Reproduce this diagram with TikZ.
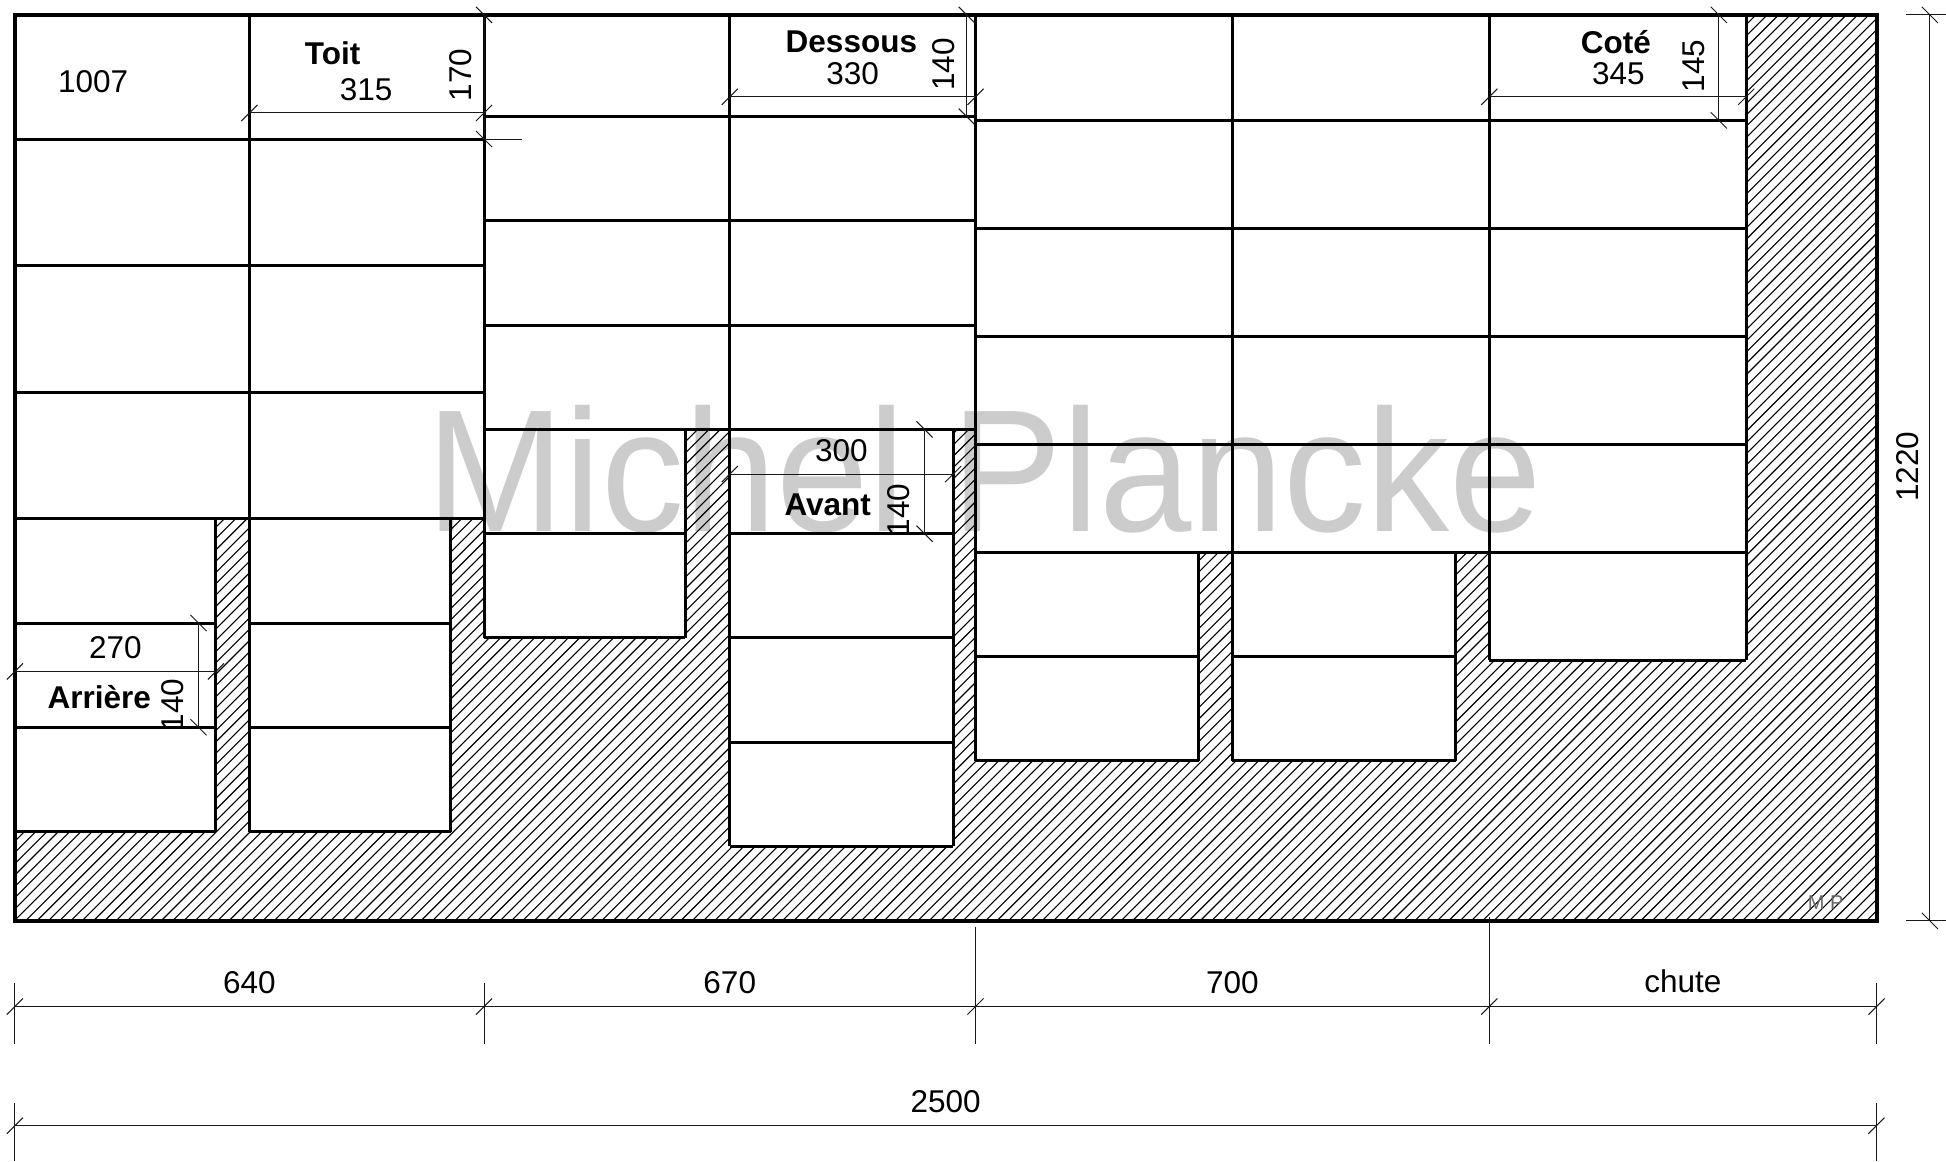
\documentclass[tikz,border=0pt]{standalone}
\usepackage{fontspec}
\setmainfont{Liberation Sans}
\definecolor{markgray}{RGB}{204,204,204}
\tikzset{
  sheetline/.style={line width=3pt,black},
  sheetedge/.style={line width=4pt,black,line join=miter},
  hatchline/.style={line width=1.1pt,black},
  dimline/.style={line width=1pt,black!90},
  dimlabel/.style={inner sep=0pt,font=\fontsize{31.5}{32}\selectfont},
  partlabel/.style={inner sep=0pt,font=\fontsize{31.5}{32}\selectfont\bfseries}
}
\begin{document}
\begin{tikzpicture}[x=1.2411pt,y=-1.2411pt]
    \useasboundingbox (0,0) rectangle (1568,935.5);
    % watermark
    \node[inner sep=0pt,text=markgray,font=\fontsize{166}{166}\selectfont,yscale=1.05,transform shape] (mark) at (793,378) {Michel Plancke};
    % offcuts
    \begin{scope}
        \clip (1407,12) -- (1512,12) -- (1512,742) -- (12,742) -- (12,670) -- (174,670) -- (174,418) -- (201,418)
            -- (201,670) -- (363,670) -- (363,418) -- (390,418) -- (390,514) -- (552,514) -- (552,346) -- (588,346)
            -- (588,682) -- (768,682) -- (768,346) -- (786,346) -- (786,613) -- (966,613) -- (966,445) -- (993,445)
            -- (993,613) -- (1173,613) -- (1173,445) -- (1200,445) -- (1200,532) -- (1407,532) -- cycle;
        \foreach \i in {0,...,255}
            \draw[hatchline] ({-780+\i*9.1},760) -- ++(780,-780);
    \end{scope}
    % columns
    \draw[sheetline] (201,12) -- (201,670);
    \draw[sheetline] (390,12) -- (390,514);
    \draw[sheetline] (588,12) -- (588,682);
    \draw[sheetline] (786,12) -- (786,613);
    \draw[sheetline] (993,12) -- (993,613);
    \draw[sheetline] (1200,12) -- (1200,532);
    \draw[sheetline] (1407,12) -- (1407,532);
    \draw[sheetline] (174,418) -- (174,670);
    \draw[sheetline] (363,418) -- (363,670);
    \draw[sheetline] (552,346) -- (552,514);
    \draw[sheetline] (768,346) -- (768,682);
    \draw[sheetline] (966,445) -- (966,613);
    \draw[sheetline] (1173,445) -- (1173,613);
    % rows
    \foreach \y in {112,214,316,418}
        \draw[sheetline] (12,\y) -- (390,\y);
    \foreach \y in {94,178,262,346}
        \draw[sheetline] (390,\y) -- (786,\y);
    \foreach \y in {97,184,271,358,445}
        \draw[sheetline] (786,\y) -- (1407,\y);
    \foreach \y in {502,586,670} {
        \draw[sheetline] (12,\y) -- (174,\y);
        \draw[sheetline] (201,\y) -- (363,\y);
    }
    \foreach \y in {430,514} \draw[sheetline] (390,\y) -- (552,\y);
    \foreach \y in {430,514,598,682} \draw[sheetline] (588,\y) -- (768,\y);
    \foreach \y in {529,613} {
        \draw[sheetline] (786,\y) -- (966,\y);
        \draw[sheetline] (993,\y) -- (1173,\y);
    }
    \draw[sheetline] (1200,532) -- (1407,532);
    \draw[sheetedge] (12,12) rectangle (1512,742);
    % dimension lines
    \draw[dimline] (201,91) -- (390,91);
    \draw[dimline] (390,12) -- (390,112) -- (421,112);
    \draw[dimline] (588,78) -- (786,78);
    \draw[dimline] (779,12) -- (779,94);
    \draw[dimline] (1200,78) -- (1407,78);
    \draw[dimline] (1385,12) -- (1385,97);
    \draw[dimline] (12,541) -- (174,541);
    \draw[dimline] (160,502) -- (160,586);
    \draw[dimline] (588,382) -- (768,382);
    \draw[dimline] (745,346) -- (745,430);
    \draw[dimline] (1536,12) -- (1568,12);
    \draw[dimline] (1536,742) -- (1568,742);
    \draw[dimline] (1555,12) -- (1555,742);
    \draw[dimline] (12,811) -- (1512,811);
    \draw[dimline] (12,907) -- (1512,907);
    \draw[dimline] (12,792) -- (12,841);
    \draw[dimline] (390,792) -- (390,841);
    \draw[dimline] (786,747) -- (786,841);
    \draw[dimline] (1200,739) -- (1200,841);
    \draw[dimline] (1512,792) -- (1512,841);
    \draw[dimline] (12,889) -- (12,935.5);
    \draw[dimline] (1512,889) -- (1512,935.5);
    % ticks
    \foreach \x/\y in {201/91,390/91,588/78,786/78,1200/78,1407/78,12/541,174/541,588/382,768/382,
                       12/811,390/811,786/811,1200/811,1512/811,12/907,1512/907}
        \draw[dimline] (\x-6.5,\y+6.5) -- (\x+6.5,\y-6.5);
    \foreach \x/\y in {390/12,390/112,779/12,779/94,1385/12,1385/97,160/502,160/586,745/346,745/430,1555/12,1555/742}
        \draw[dimline] (\x-6.5,\y-6.5) -- (\x+6.5,\y+6.5);
    % labels
    \node[dimlabel] (len1007) at (75,66) {1007};
    \node[partlabel] (toit) at (268,43) {Toit};
    \node[dimlabel] (wid315) at (295,72) {315};
    \node[dimlabel,rotate=90] (hgt170) at (371,60.5) {170};
    \node[partlabel] (dessous) at (686,33.5) {Dessous};
    \node[dimlabel] (wid330) at (687,59) {330};
    \node[dimlabel,rotate=90] (hgt140a) at (760,52) {140};
    \node[partlabel] (cote) at (1302,34) {Coté};
    \node[dimlabel] (wid345) at (1304,59) {345};
    \node[dimlabel,rotate=90] (hgt145) at (1365,53) {145};
    \node[dimlabel] (wid300) at (678,363) {300};
    \node[partlabel] (avant) at (667,406.5) {Avant};
    \node[dimlabel,rotate=90] (hgt140b) at (724,411) {140};
    \node[dimlabel] (wid270) at (93,521.5) {270};
    \node[partlabel] (arriere) at (80,561.5) {Arrière};
    \node[dimlabel,rotate=90] (hgt140c) at (139,568) {140};
    \node[dimlabel,rotate=90] (tot1220) at (1537,376) {1220};
    \node[dimlabel] (tot640) at (201,791.5) {640};
    \node[dimlabel] (tot670) at (588,791.5) {670};
    \node[dimlabel] (tot700) at (993,791.5) {700};
    \node[dimlabel] (chute) at (1356,791) {chute};
    \node[dimlabel] (tot2500) at (762,888) {2500};
    \node[inner sep=0pt,text=black!60,font=\fontsize{20}{20}\selectfont] (initials) at (1471,727) {M P};
\end{tikzpicture}
\end{document}
